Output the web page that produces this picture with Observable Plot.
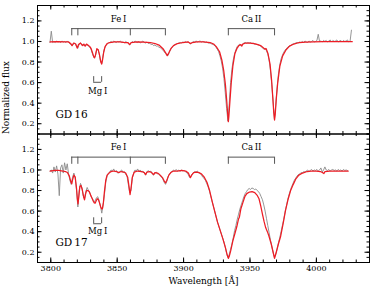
<!DOCTYPE html>
<html><head><meta charset="utf-8">
<script src="https://cdn.jsdelivr.net/npm/d3@7"></script>
<script src="https://cdn.jsdelivr.net/npm/@observablehq/plot@0.6"></script>
<style>body{margin:0;background:#fff}</style>
</head><body><div id="chart"></div>
<script>
// ---------- data ----------
const panels = ["GD\u200916", "GD\u200917"];

// model spectra [wavelength, flux]
const gd16Model = [
[3799.5,0.995],[3805,0.998],[3810,0.997],[3813.5,0.995],[3815.3,0.975],[3816,0.96],[3817.2,0.985],[3818.8,0.975],
[3819.9,0.935],[3820.9,0.97],[3822.4,0.985],[3823.9,0.96],[3824.9,0.975],[3825.9,0.955],[3826.9,0.975],[3828.4,0.96],
[3829.4,0.95],[3830.4,0.93],[3831.4,0.89],[3832.4,0.85],[3833,0.84],[3833.7,0.87],[3834.7,0.93],[3835.7,0.92],
[3836.7,0.87],[3837.7,0.80],[3838.3,0.78],[3839,0.82],[3839.9,0.90],[3840.9,0.95],[3842.4,0.98],[3844.4,0.99],
[3848,0.995],[3852,0.995],[3856,0.99],[3858,0.99],[3859.4,0.97],[3860.5,0.99],[3865,0.995],[3870,0.993],
[3875,0.99],[3878.5,0.98],[3881.5,0.965],[3884.5,0.93],[3886.5,0.89],[3887.7,0.862],[3888.9,0.89],[3890.4,0.93],
[3892.4,0.96],[3895.4,0.98],[3899.5,0.99],[3903.5,0.995],[3905.1,0.98],[3906.6,0.99],[3910,0.997],[3915,0.997],
[3920,0.99],[3922.6,0.975],[3924.6,0.95],[3927.1,0.90],[3928.8,0.82],[3930.2,0.72],[3931.5,0.58],[3932.5,0.42],
[3933.3,0.28],[3933.7,0.22],[3934.1,0.27],[3934.9,0.42],[3935.9,0.60],[3937.1,0.76],[3938.6,0.88],[3940.1,0.93],
[3941.6,0.96],[3943.1,0.97],[3943.9,0.955],[3944.6,0.975],[3946.6,0.985],[3950,0.985],[3953,0.98],[3956,0.97],
[3958,0.96],[3960,0.94],[3961.2,0.925],[3962.2,0.93],[3963.6,0.88],[3965.1,0.78],[3966.3,0.62],[3967.2,0.45],
[3967.9,0.31],[3968.5,0.236],[3969.0,0.29],[3969.8,0.44],[3970.9,0.60],[3972.5,0.76],[3974.6,0.86],[3977.2,0.92],
[3979.8,0.955],[3983,0.975],[3987,0.99],[3992,0.993],[3998,0.995],[4005,0.998],[4015,0.998],[4027,0.998]
];
const gd17Model = [
[3799.5,0.99],[3803,0.995],[3806,0.995],[3809,0.99],[3811,0.985],[3812.5,0.975],[3814,0.94],[3815,0.89],
[3815.8,0.865],[3816.5,0.91],[3817.4,0.95],[3818.4,0.93],[3819.4,0.82],[3820,0.72],[3820.5,0.67],[3821.1,0.74],
[3821.9,0.84],[3822.7,0.85],[3823.7,0.81],[3824.7,0.74],[3825.4,0.71],[3826.1,0.76],[3826.9,0.80],[3827.9,0.80],
[3828.9,0.79],[3829.9,0.76],[3830.9,0.73],[3831.9,0.70],[3832.8,0.68],[3833.4,0.677],[3834.2,0.70],[3835,0.72],
[3835.9,0.71],[3836.7,0.68],[3837.6,0.64],[3838.4,0.62],[3838.9,0.625],[3839.6,0.68],[3840.4,0.79],[3841.4,0.90],
[3842.4,0.95],[3843.9,0.97],[3845.4,0.985],[3847.4,0.99],[3849.4,0.985],[3851.4,0.975],[3852.9,0.985],[3854.9,0.98],
[3856.4,0.97],[3857.9,0.93],[3858.9,0.84],[3859.7,0.76],[3860.4,0.82],[3861.4,0.93],[3862.9,0.98],[3865.4,0.99],
[3868.4,0.985],[3870.4,0.975],[3871.4,0.955],[3872.4,0.98],[3874.4,0.985],[3876.4,0.97],[3877.4,0.955],[3878.4,0.975],
[3880.4,0.97],[3882.4,0.95],[3884.4,0.92],[3885.7,0.885],[3886.5,0.875],[3887.4,0.9],[3888.9,0.95],[3890.4,0.975],
[3892.4,0.99],[3895.4,0.99],[3898.6,0.995],[3901.6,0.99],[3903.6,0.97],[3905.1,0.925],[3906.1,0.95],[3907.6,0.975],
[3909.6,0.98],[3911.6,0.975],[3913.6,0.96],[3915.6,0.93],[3917.6,0.88],[3919.6,0.8],[3921.6,0.69],[3923.6,0.59],
[3925.6,0.49],[3927.6,0.41],[3929.6,0.33],[3931.6,0.24],[3932.9,0.17],[3933.7,0.14],[3934.4,0.16],[3935.6,0.22],
[3937.1,0.31],[3938.6,0.38],[3940.1,0.45],[3941.3,0.52],[3942,0.54],[3943.1,0.62],[3944.6,0.68],[3946.1,0.74],
[3947.6,0.77],[3949.6,0.785],[3951.6,0.79],[3953.6,0.78],[3955.6,0.75],[3956.8,0.72],[3958.1,0.65],[3959.3,0.575],
[3960.6,0.50],[3961.8,0.44],[3963.1,0.40],[3964.2,0.36],[3966,0.28],[3967.6,0.19],[3968.5,0.14],[3969.8,0.2],
[3971.4,0.28],[3973,0.35],[3975,0.48],[3976.8,0.61],[3978.6,0.71],[3980.6,0.8],[3982.6,0.86],[3984.4,0.91],
[3986.8,0.95],[3989.6,0.97],[3993,0.985],[3996,0.99],[4000,0.99],[4003,0.985],[4004.5,0.975],[4005.6,0.965],
[4006.5,0.985],[4010,0.99],[4015,0.99],[4020,0.99],[4024,0.99]
];

// observed spectra: one value per 1 Å pixel, first pixel at 3799.4 Å
const obsStart = 3799.4;
const obsStep = 1;
const gd16Obs = [
0.99,1.10,0.99,1.00,0.99,1.005,0.995,1.00,0.99,1.005,
0.995,1.00,0.99,1.005,0.99,0.98,0.965,0.96,0.985,0.98,
0.95,0.935,0.975,0.985,0.965,0.97,0.955,0.97,0.965,0.955,
0.945,0.92,0.88,0.845,0.85,0.91,0.925,0.885,0.81,0.785,
0.87,0.93,0.96,0.975,0.985,0.99,1.00,0.99,1.005,0.995,
0.99,1.00,0.995,1.005,0.99,0.995,0.985,1.00,0.99,0.985,
0.965,0.985,1.00,0.99,1.005,0.995,0.99,1.00,0.985,0.995,
1.005,0.99,0.985,0.995,0.98,0.985,0.97,0.975,0.96,0.965,
0.955,0.955,0.945,0.94,0.93,0.915,0.9,0.885,0.865,0.865,
0.9,0.925,0.945,0.96,0.97,0.975,0.98,0.985,0.99,0.985,
0.995,0.99,1.00,0.99,0.995,0.985,0.975,0.99,1.00,0.995,
1.005,0.995,1.00,1.005,0.995,1.00,0.995,0.99,0.995,0.985,
0.985,0.98,0.975,0.97,0.96,0.945,0.925,0.9,0.86,0.81,
0.74,0.64,0.5,0.35,0.225,0.4,0.6,0.73,0.82,0.88,
0.92,0.95,0.965,0.975,0.955,0.975,0.985,0.99,0.985,0.99,
0.985,0.99,0.98,0.985,0.975,0.975,0.97,0.965,0.96,0.95,
0.94,0.925,0.935,0.91,0.88,0.82,0.72,0.58,0.42,0.245,
0.38,0.55,0.68,0.77,0.83,0.865,0.895,0.915,0.93,0.945,
0.955,0.96,0.97,0.975,0.98,0.985,0.99,0.985,0.995,0.99,
1.00,0.99,1.005,0.995,0.99,1.005,0.995,1.00,1.01,0.995,
1.00,1.01,1.07,1.00,1.005,0.995,1.01,1.00,1.01,0.995,
1.005,1.015,0.995,1.01,1.00,1.005,1.015,0.995,1.005,1.01,
0.995,1.01,1.00,1.005,1.015,0.995,1.005,1.11
];
const gd17Obs = [
0.99,1.00,0.97,1.03,0.98,1.04,0.96,0.75,1.02,1.05,
0.97,1.07,1.00,1.06,0.96,0.9,0.86,0.93,0.97,0.92,
0.8,0.64,0.8,0.87,0.83,0.75,0.72,0.79,0.83,0.8,
0.78,0.74,0.72,0.69,0.7,0.73,0.74,0.7,0.65,0.58,
0.66,0.76,0.88,0.94,0.97,0.98,1.0,0.99,1.01,0.98,
0.995,0.97,0.975,0.99,1.0,0.975,0.985,0.96,0.94,0.86,
0.78,0.8,0.92,0.97,1.0,0.99,1.01,0.985,1.0,0.98,
0.99,0.97,0.95,0.98,0.995,0.98,0.99,0.96,0.95,0.97,
0.98,0.96,0.965,0.94,0.935,0.91,0.88,0.86,0.89,0.94,
0.96,0.98,0.985,1.0,0.99,1.005,0.99,1.0,0.985,1.0,
0.99,0.995,0.985,0.97,0.96,0.93,0.935,0.96,0.975,0.985,
0.98,0.99,0.97,0.965,0.955,0.93,0.92,0.9,0.87,0.84,
0.8,0.75,0.7,0.65,0.6,0.55,0.5,0.46,0.42,0.38,
0.34,0.3,0.25,0.19,0.15,0.18,0.23,0.28,0.34,0.41,
0.46,0.52,0.57,0.62,0.66,0.7,0.74,0.77,0.79,0.81,
0.82,0.81,0.825,0.82,0.81,0.815,0.8,0.79,0.77,0.74,
0.71,0.66,0.6,0.53,0.46,0.39,0.32,0.26,0.2,0.15,
0.18,0.23,0.29,0.34,0.4,0.46,0.52,0.59,0.65,0.71,
0.76,0.8,0.84,0.87,0.9,0.92,0.94,0.955,0.96,0.975,
0.97,0.985,0.98,0.99,1.0,0.985,0.995,1.005,0.99,1.0,
0.995,1.005,0.99,1.0,1.02,0.98,1.0,1.03,1.0,0.995,
1.005,0.99,1.0,1.005,0.995,1.0,0.99,1.005,0.995,1.0,
0.99,1.005,0.995,1.0,0.995
];

// line identifications (Å)
const feLines = [3815.8, 3820.4, 3859.9, 3886.3];
const caLines = [3933.7, 3968.5];
const mgLines = [3832.3, 3838.3];
const lineLabels = ["Fe\u2009I", "Ca\u2009II", "Mg\u2009I"];

// ticks
const xTicks = [3800, 3850, 3900, 3950, 4000];
const xMinorTicks = [3790,3800,3810,3820,3830,3840,3850,3860,3870,3880,3890,3900,3910,3920,3930,3940,3950,3960,3970,3980,3990,4000,4010,4020,4030,4040];
const yTicks = [0.2, 0.4, 0.6, 0.8, 1.0, 1.2];
const yMinorTicks = [0.1,0.15,0.2,0.25,0.3,0.35,0.4,0.45,0.5,0.55,0.6,0.65,0.7,0.75,0.8,0.85,0.9,0.95,1.0,1.05,1.1,1.15,1.2,1.25,1.3,1.35];

// ---------- layout ----------
const W = 374, H = 294;
const mL = 37, mR = 5, mT = 5, mB = 32;
const facetH = (H - mT - mB) / panels.length;
const frameW = W - mL - mR;
const majorLen = 4.5, minorLen = 2.5;
const bracketColor = "#555";
const mgLevels = {};
mgLevels[panels[0]] = {top: 0.658, bottom: 0.603, labelY: 0.518};
mgLevels[panels[1]] = {top: 0.535, bottom: 0.477, labelY: 0.405};

const toRows = (p, arr) => arr.map(([w, f]) => ({panel: p, w, f}));
const model = [...toRows(panels[0], gd16Model), ...toRows(panels[1], gd17Model)];
const obs = [
  ...gd16Obs.map((f, i) => ({panel: panels[0], w: obsStart + i * obsStep, f})),
  ...gd17Obs.map((f, i) => ({panel: panels[1], w: obsStart + i * obsStep, f}))
];
const brackets = panels.flatMap(p => [
  {panel: p, x1: feLines[0], x2: feLines[feLines.length - 1], label: lineLabels[0]},
  {panel: p, x1: caLines[0], x2: caLines[caLines.length - 1], label: lineLabels[1]}
]);
const bracketTicks = panels.flatMap(p => [...feLines, ...caLines].map(w => ({panel: p, w})));
const mgBar = panels.map(p => ({panel: p, x1: mgLines[0], x2: mgLines[1], ...mgLevels[p], label: lineLabels[2]}));
const mgTicks = panels.flatMap(p => mgLines.map(w => ({panel: p, w, ...mgLevels[p]})));

const chart = Plot.plot({
  width: W, height: H,
  marginLeft: mL, marginRight: mR, marginTop: mT, marginBottom: mB,
  x: {domain: [3790, 4040]},
  y: {domain: [0.1, 1.35]},
  fy: {domain: panels, padding: 0, axis: null, round: false},
  style: {fontFamily: "DejaVu Serif", fontSize: "8px", color: "black", background: "white"},
  marks: [
    Plot.line(obs, {x: "w", y: "f", fy: "panel", stroke: "#8a8a8a", strokeWidth: 0.9}),
    Plot.line(model, {x: "w", y: "f", fy: "panel", stroke: "#ee1c24", strokeWidth: 1.25}),
    Plot.ruleY(brackets, {y: 1.125, x1: "x1", x2: "x2", fy: "panel", stroke: bracketColor}),
    Plot.ruleX(bracketTicks, {x: "w", y1: 1.055, y2: 1.125, fy: "panel", stroke: bracketColor}),
    Plot.text(brackets, {x: d => (d.x1 + d.x2) / 2, y: 1.22, text: "label", fy: "panel", fontSize: 8.5}),
    Plot.ruleX(mgTicks, {x: "w", y1: "bottom", y2: "top", fy: "panel", stroke: bracketColor}),
    Plot.ruleY(mgBar, {y: "bottom", x1: "x1", x2: "x2", fy: "panel", stroke: bracketColor}),
    Plot.text(mgBar, {x: d => (d.x1 + d.x2) / 2, y: "labelY", text: "label", fy: "panel", fontSize: 8.5}),
    Plot.text(panels, {fy: d => d, text: d => d, x: 3803.5, y: 0.29, textAnchor: "start", fontSize: 10.5}),
    Plot.frame({stroke: "black", strokeWidth: 1}),
    // inward ticks on all four sides
    Plot.tickX(xTicks, {x: d => d, insetTop: facetH - majorLen, stroke: "black"}),
    Plot.tickX(xTicks, {x: d => d, insetBottom: facetH - majorLen, stroke: "black"}),
    Plot.tickX(xMinorTicks, {x: d => d, insetTop: facetH - minorLen, stroke: "black"}),
    Plot.tickX(xMinorTicks, {x: d => d, insetBottom: facetH - minorLen, stroke: "black"}),
    Plot.tickY(yTicks, {y: d => d, insetRight: frameW - majorLen, stroke: "black"}),
    Plot.tickY(yTicks, {y: d => d, insetLeft: frameW - majorLen, stroke: "black"}),
    Plot.tickY(yMinorTicks, {y: d => d, insetRight: frameW - minorLen, stroke: "black"}),
    Plot.tickY(yMinorTicks, {y: d => d, insetLeft: frameW - minorLen, stroke: "black"}),
    Plot.axisX({ticks: xTicks, tickSize: 0, tickPadding: 3, label: null, tickFormat: d => String(d)}),
    Plot.axisY({ticks: yTicks, tickSize: 0, tickPadding: 3, label: null, tickFormat: d => d.toFixed(1)}),
    Plot.text(["Wavelength [Å]"], {fy: () => panels[1], frameAnchor: "bottom", dy: 21, text: d => d, fontSize: 9}),
    Plot.text(["Normalized flux"], {fy: () => panels[0], frameAnchor: "bottom-left", dx: -29, rotate: -90, text: d => d, fontSize: 9})
  ]
});
document.getElementById("chart").append(chart);
</script>
</body></html>
